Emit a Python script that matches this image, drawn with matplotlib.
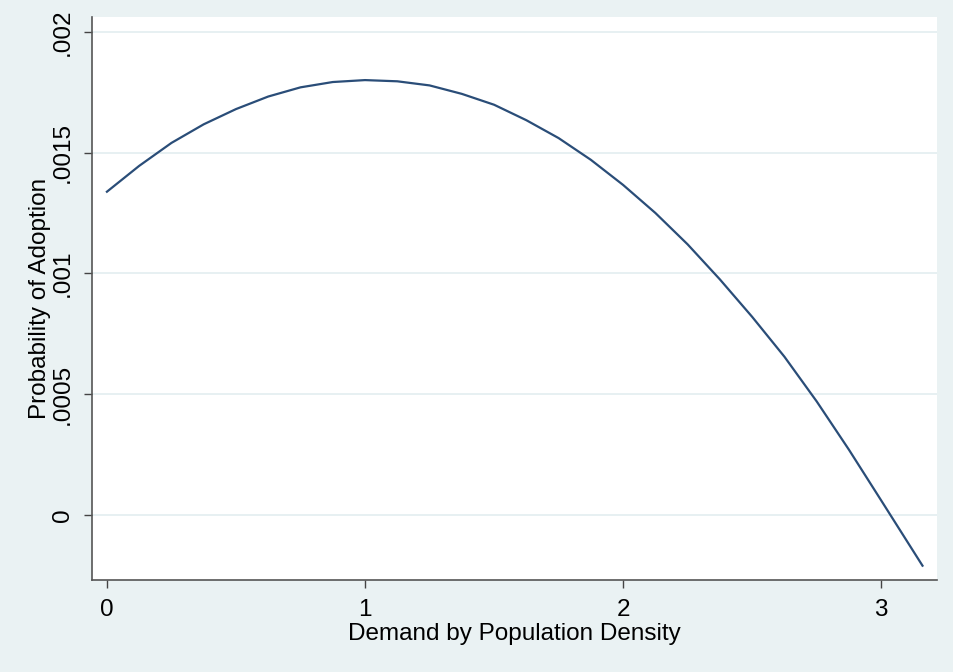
import matplotlib
matplotlib.use("Agg")
import matplotlib.pyplot as plt

# values
density = [0, 0.125, 0.25, 0.375, 0.5, 0.625, 0.75, 0.875, 1.0, 1.125, 1.25,
           1.375, 1.5, 1.625, 1.75, 1.875, 2.0, 2.125, 2.25, 2.375, 2.5,
           2.625, 2.75, 2.875, 3.0, 3.16]
prob_adopt = [0.001338, 0.001445, 0.00154, 0.001617, 0.00168, 0.001732, 0.00177,
              0.001792, 0.00180, 0.001795, 0.001778, 0.001743, 0.001698, 0.001634,
              0.00156, 0.00147, 0.001366, 0.00125, 0.00112, 0.000975, 0.00082,
              0.000655, 0.00047, 0.00027, 0.00006, -0.00021]

x_ticks = [0, 1, 2, 3]
y_ticks = [0, 0.0005, 0.001, 0.0015, 0.002]
y_ticklabels = ["0", ".0005", ".001", ".0015", ".002"]

BG = "#EAF2F3"
LINE = "#2A4D78"

plt.rcParams["font.family"] = ["Liberation Sans", "DejaVu Sans"]

fig = plt.figure(figsize=(9.54, 6.72), dpi=100, facecolor=BG)
ax = fig.add_axes([0.0964, 0.137, 0.886, 0.838])
ax.set_facecolor("white")

ax.plot(density, prob_adopt, color=LINE, linewidth=1.6)

ax.set_xlim(-0.058, 3.217)
ax.set_ylim(-0.000269, 0.002062)
ax.set_xticks(x_ticks)
ax.set_xticklabels([str(t) for t in x_ticks], fontsize=17.5)
ax.set_yticks(y_ticks)
ax.set_yticklabels(y_ticklabels, fontsize=17.5, rotation=90, va="center")

ax.grid(axis="y", color="#E3EDF0", linewidth=1.2)
ax.set_axisbelow(True)

for side in ["top", "right"]:
    ax.spines[side].set_visible(False)
for side in ["left", "bottom"]:
    ax.spines[side].set_color("#555555")
    ax.spines[side].set_linewidth(1.2)
ax.tick_params(direction="out", length=6, width=1, color="#444444", pad=5)
ax.tick_params(axis="x", pad=8)
ax.tick_params(axis="y", pad=7)

ax.set_xlabel("Demand by Population Density", fontsize=17.5, labelpad=1)
ax.set_ylabel("Probability of Adoption", fontsize=17.5, labelpad=1)

fig.savefig("out.png", dpi=100, facecolor=BG)
